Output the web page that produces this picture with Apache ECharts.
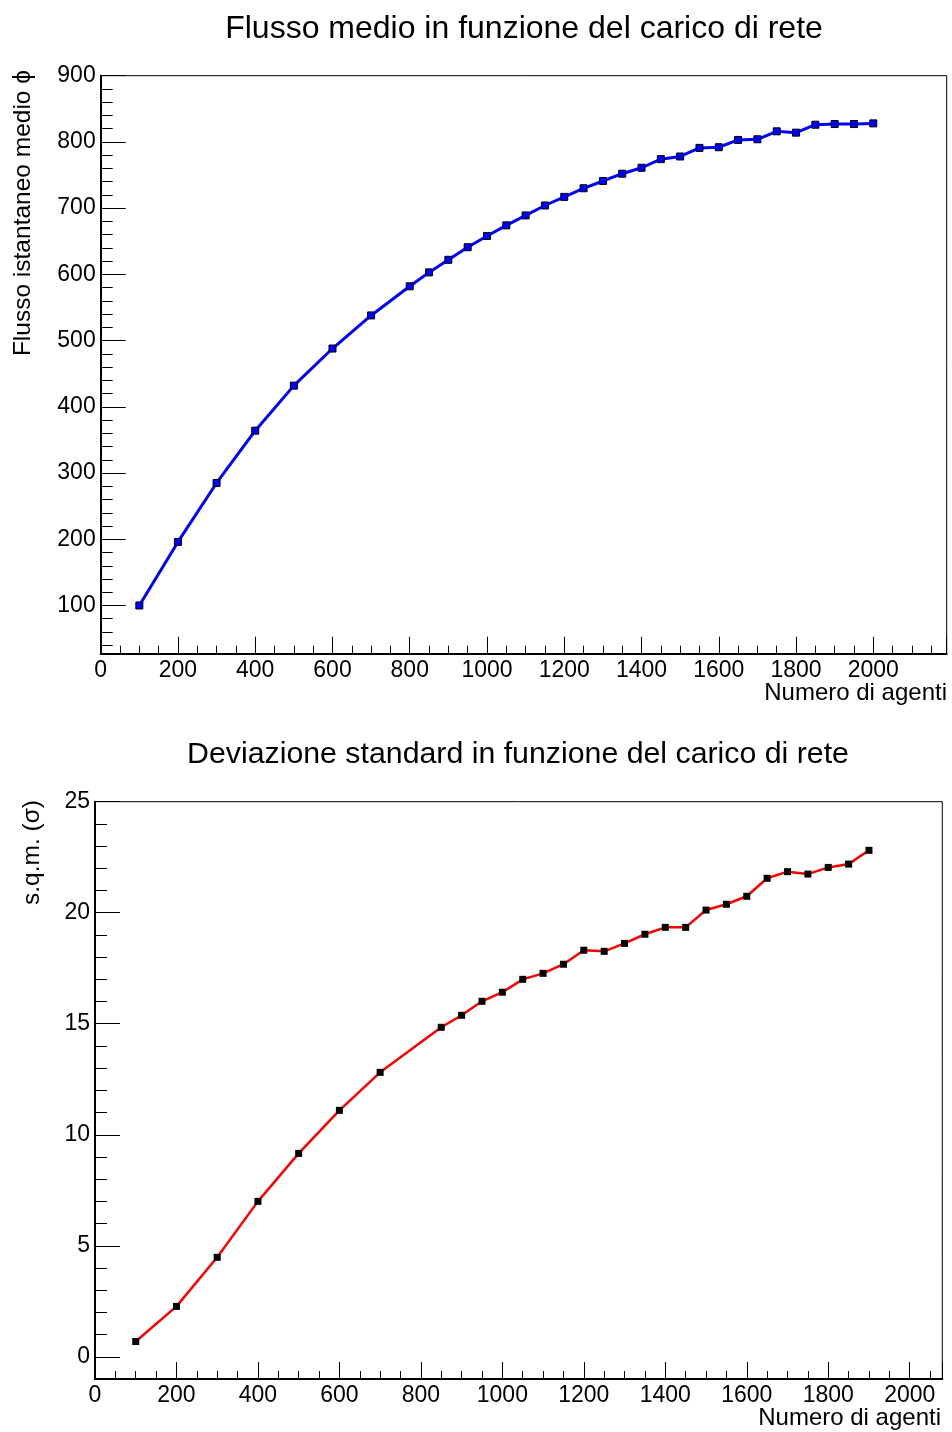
<!DOCTYPE html>
<html>
<head>
<meta charset="utf-8">
<script src="https://cdn.jsdelivr.net/npm/echarts@6/dist/echarts.min.js"></script>
<style>
html,body{margin:0;padding:0;background:#fff;}
#chart{width:952px;height:1432px;}
</style>
</head>
<body>
<div id="chart"></div>
<script>
// ---- Data ----
const agentsFlux = [100,200,300,400,500,600,700,800,850,900,950,1000,1050,1100,1150,1200,1250,1300,1350,1400,1450,1500,1550,1600,1650,1700,1750,1800,1850,1900,1950,2000];
const fluxValues = [100,196,285,364,432,488,538,582,603,622,641,658,674,689,704,717,730,741,752,761,774,778,791,792,803,804,816,814,826,827,827,828];

const agentsSigma = [100,200,300,400,500,600,700,850,900,950,1000,1050,1100,1150,1200,1250,1300,1350,1400,1450,1500,1550,1600,1650,1700,1750,1800,1850,1900];
const sigmaValues = [0.69,2.27,4.48,7.0,9.16,11.1,12.81,14.84,15.38,16.01,16.42,17.0,17.27,17.68,18.31,18.26,18.62,19.03,19.34,19.34,20.12,20.38,20.74,21.55,21.85,21.74,22.04,22.19,22.81];

const titleTop = 'Flusso medio in funzione del carico di rete';
const titleBottom = 'Deviazione standard in funzione del carico di rete';
const xAxisTitle = 'Numero di agenti';
const yTitleTop = 'Flusso istantaneo medio \u03D5';
const yTitleBottom = 's.q.m. (\u03C3)';

const FONT = '"Liberation Sans", Arial, Helvetica, sans-serif';

function pairs(xs, ys) { return xs.map((x, i) => [x, ys[i]]); }
function plain(v) { return String(v); }

function xAxisCfg(gridIndex, max) {
  return {
    type: 'value', gridIndex, min: 0, max, interval: 200,
    axisLine: { show: true, onZero: false, lineStyle: { color: '#000', width: 2 } },
    axisTick: { show: true, inside: true, length: 17, lineStyle: { color: '#000', width: 1 } },
    minorTick: { show: true, splitNumber: 4, length: 8, lineStyle: { color: '#000', width: 1 } },
    axisLabel: { color: '#000', fontSize: 23, fontFamily: FONT, margin: 5, showMaxLabel: false, formatter: plain },
    splitLine: { show: false }
  };
}
function yAxisCfg(gridIndex, min, max, splitNumber) {
  return {
    type: 'value', gridIndex, min, max, splitNumber,
    axisLine: { show: true, onZero: false, lineStyle: { color: '#000', width: 2 } },
    axisTick: { show: true, inside: true, length: 25, lineStyle: { color: '#000', width: 1 } },
    minorTick: { show: true, splitNumber: 5, length: 12, lineStyle: { color: '#000', width: 1 } },
    axisLabel: { color: '#000', fontSize: 23, fontFamily: FONT, margin: 5, showMinLabel: false, formatter: plain },
    splitLine: { show: false }
  };
}

const chart = echarts.init(document.getElementById('chart'), null, { renderer: 'canvas' });
chart.setOption({
  animation: false,
  backgroundColor: '#fff',
  grid: [
    { left: 100.7, top: 75.7, width: 846, height: 578, show: true, borderColor: '#000', borderWidth: 1, containLabel: false, outerBoundsMode: 'none' },
    { left: 95, top: 801.7, width: 847.3, height: 577.3, show: true, borderColor: '#000', borderWidth: 1, containLabel: false, outerBoundsMode: 'none' }
  ],
  xAxis: [ xAxisCfg(0, 2190), xAxisCfg(1, 2080) ],
  yAxis: [ yAxisCfg(0, 27.2, 900, 9), yAxisCfg(1, -1, 25, 5) ],
  series: [
    {
      type: 'line', xAxisIndex: 0, yAxisIndex: 0,
      data: pairs(agentsFlux, fluxValues),
      symbol: 'rect', symbolSize: 7,
      itemStyle: { color: '#0000ff', borderColor: '#000', borderWidth: 1 },
      lineStyle: { color: '#0000ff', width: 3 },
      z: 3
    },
    {
      type: 'line', xAxisIndex: 1, yAxisIndex: 1,
      data: pairs(agentsSigma, sigmaValues),
      symbol: 'rect', symbolSize: 7,
      itemStyle: { color: '#000', borderColor: '#000', borderWidth: 0 },
      lineStyle: { color: '#ff0000', width: 2.5 },
      z: 3
    }
  ],
  graphic: [
    { type: 'text', x: 524, y: 29, style: { text: titleTop, fontSize: 32, fontFamily: FONT, fill: '#000', align: 'center', verticalAlign: 'middle' } },
    { type: 'text', x: 518, y: 755, style: { text: titleBottom, fontSize: 30.3, fontFamily: FONT, fill: '#000', align: 'center', verticalAlign: 'middle' } },
    { type: 'text', x: 947, y: 693, style: { text: xAxisTitle, fontSize: 24, fontFamily: FONT, fill: '#000', align: 'right', verticalAlign: 'middle' } },
    { type: 'text', x: 941, y: 1418, style: { text: xAxisTitle, fontSize: 24, fontFamily: FONT, fill: '#000', align: 'right', verticalAlign: 'middle' } },
    { type: 'text', x: 23, y: 70, rotation: Math.PI / 2, style: { text: yTitleTop, fontSize: 24.5, fontFamily: FONT, fill: '#000', align: 'right', verticalAlign: 'middle' } },
    { type: 'text', x: 32, y: 800, rotation: Math.PI / 2, style: { text: yTitleBottom, fontSize: 24.5, fontFamily: FONT, fill: '#000', align: 'right', verticalAlign: 'middle' } }
  ]
});
</script>
</body>
</html>
